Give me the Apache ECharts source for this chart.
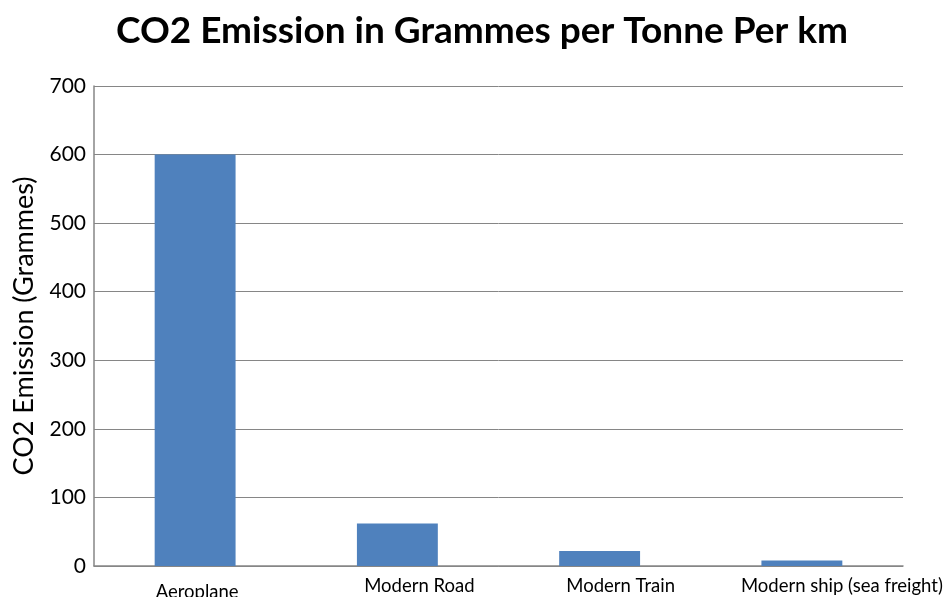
<!DOCTYPE html>
<html><head><meta charset="utf-8">
<script src="https://cdn.jsdelivr.net/npm/echarts@6/dist/echarts.min.js"></script>
<style>html,body{margin:0;padding:0;background:#fff}#c{width:946px;height:597px}</style>
</head><body><div id="c"></div>
<script>
const categories = ['Aeroplane', 'Modern Road', 'Modern Train', 'Modern ship (sea freight)'];
const emissions = [600, 62, 22, 8];
const yTicks = [0, 100, 200, 300, 400, 500, 600, 700];

const labelShift = [[6, 4], [0, 44], [0, 42], [0, 80]];
const chart = echarts.init(document.getElementById('c'));
chart.setOption({
  animation: false,
  title: {
    text: 'CO2 Emission in Grammes per Tonne Per km',
    left: 111, top: 8,
    textStyle: { fontFamily: 'Lato', fontWeight: 'bold', fontSize: 37, color: '#000' }
  },
  grid: { left: 94, right: 43, top: 86, bottom: 31, containLabel: false, outerBoundsMode: 'none' },
  xAxis: {
    type: 'category',
    data: categories.map((c, i) => ({ value: c, textStyle: { padding: [labelShift[i][0], 0, 0, labelShift[i][1]] } })),
    axisLine: { lineStyle: { color: '#868686', width: 1.5 } },
    axisTick: { show: false },
    axisLabel: { fontFamily: 'Lato', fontSize: 18.5, color: '#000', margin: 11, interval: 0, hideOverlap: false }
  },
  yAxis: {
    type: 'value', min: 0, max: 700, interval: 100,
    name: 'CO2 Emission (Grammes)', nameLocation: 'middle', nameGap: 56, nameRotate: 90,
    nameTextStyle: { fontFamily: 'Lato', fontSize: 27, color: '#000' },
    axisLine: { show: true, lineStyle: { color: '#868686', width: 1.5 } },
    axisTick: { show: false },
    axisLabel: { fontFamily: 'Lato', fontSize: 21, color: '#000', margin: 8,
      formatter: v => yTicks.includes(v) ? String(v) : '' },
    splitLine: { lineStyle: { color: '#868686', width: 1 } }
  },
  series: [{
    type: 'bar', data: emissions, barWidth: '40%',
    itemStyle: { color: '#4F81BD' }
  }]
});
</script></body></html>
